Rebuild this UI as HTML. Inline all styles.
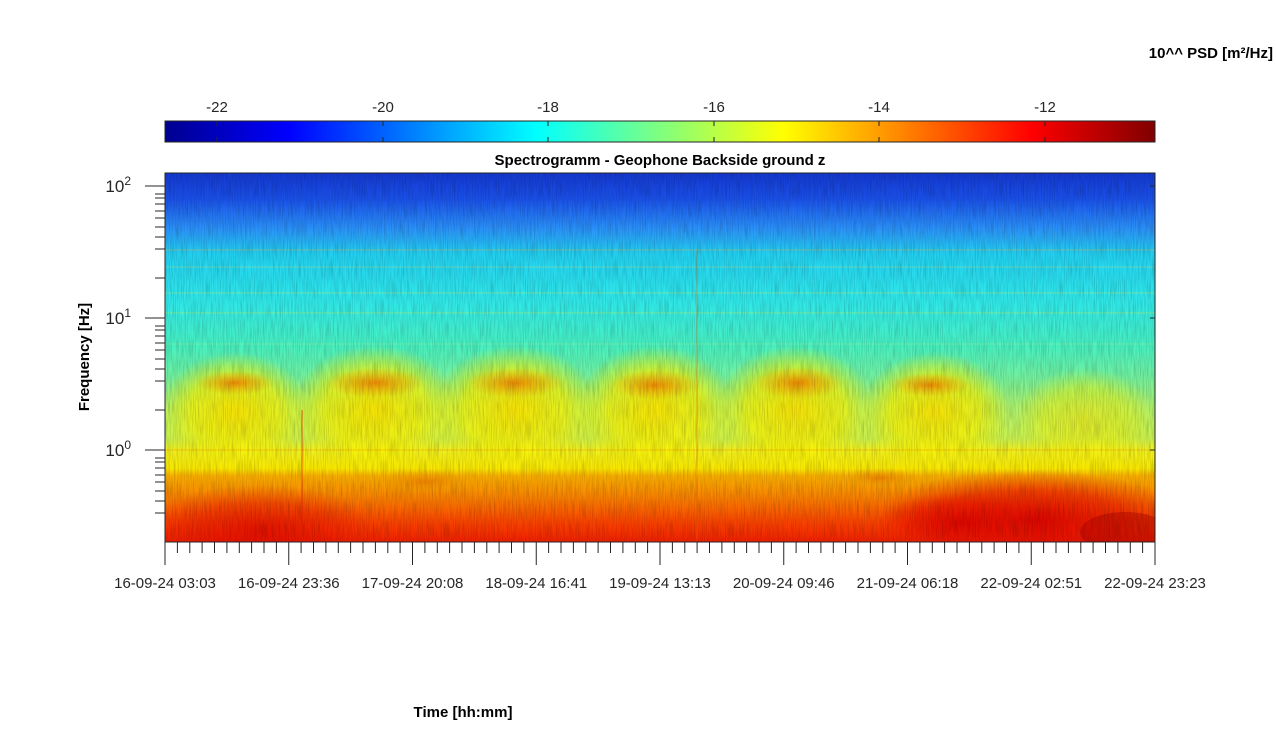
<!DOCTYPE html>
<html><head><meta charset="utf-8"><style>
html,body{margin:0;padding:0;background:#fff;}
svg{display:block;font-family:"Liberation Sans",Arial,sans-serif;}
</style></head><body>
<svg width="1276" height="743" viewBox="0 0 1276 743" xmlns="http://www.w3.org/2000/svg">
<defs>
<linearGradient id="jet" x1="0" x2="1" y1="0" y2="0">
<stop offset="0" stop-color="#00008f"/>
<stop offset="0.125" stop-color="#0000ff"/>
<stop offset="0.375" stop-color="#00ffff"/>
<stop offset="0.625" stop-color="#ffff00"/>
<stop offset="0.875" stop-color="#ff0000"/>
<stop offset="1" stop-color="#800000"/>
</linearGradient>
<linearGradient id="base" x1="0" x2="0" y1="0" y2="1">
<stop offset="0" stop-color="#1438d0"/>
<stop offset="0.07" stop-color="#1a50e8"/>
<stop offset="0.15" stop-color="#2a90f8"/>
<stop offset="0.22" stop-color="#22d0f0"/>
<stop offset="0.35" stop-color="#30e8e8"/>
<stop offset="0.47" stop-color="#48f0c0"/>
<stop offset="0.55" stop-color="#70f0a0"/>
<stop offset="0.63" stop-color="#a8f070"/>
<stop offset="0.72" stop-color="#c8f050"/>
<stop offset="0.75" stop-color="#f0f020"/>
<stop offset="0.80" stop-color="#f8e800"/>
<stop offset="0.82" stop-color="#f8b000"/>
<stop offset="0.88" stop-color="#f88000"/>
<stop offset="0.95" stop-color="#f84000"/>
<stop offset="1" stop-color="#f02000"/>
</linearGradient>
<radialGradient id="blob" cx="0.5" cy="0.5" r="0.5">
<stop offset="0" stop-color="#f8e000" stop-opacity="0.95"/>
<stop offset="0.6" stop-color="#f8f000" stop-opacity="0.7"/>
<stop offset="1" stop-color="#f8f000" stop-opacity="0"/>
</radialGradient>
<radialGradient id="oblob" cx="0.5" cy="0.5" r="0.5">
<stop offset="0" stop-color="#f08000" stop-opacity="0.9"/>
<stop offset="1" stop-color="#f0a000" stop-opacity="0"/>
</radialGradient>
<radialGradient id="rblob" cx="0.5" cy="0.5" r="0.5">
<stop offset="0" stop-color="#d80000" stop-opacity="0.95"/>
<stop offset="0.6" stop-color="#e81000" stop-opacity="0.6"/>
<stop offset="1" stop-color="#f02000" stop-opacity="0"/>
</radialGradient>
<filter id="noise" x="0" y="0" width="1" height="1">
<feTurbulence type="fractalNoise" baseFrequency="0.9 0.05" numOctaves="2" seed="3"/>
<feColorMatrix type="matrix" values="0 0 0 0 0  0 0 0 0 0  0 0 0 0 0  0 0 0 -1.2 0.75"/>
</filter>
<clipPath id="pc"><rect x="165" y="173" width="990" height="369"/></clipPath>
</defs>

<rect x="165" y="121" width="990" height="21" fill="url(#jet)" stroke="#262626" stroke-width="1"/>
<g stroke="#262626" stroke-width="1">
<line x1="217" y1="121" x2="217" y2="126"/><line x1="383" y1="121" x2="383" y2="126"/><line x1="548" y1="121" x2="548" y2="126"/><line x1="714" y1="121" x2="714" y2="126"/><line x1="879" y1="121" x2="879" y2="126"/><line x1="1045" y1="121" x2="1045" y2="126"/>
<line x1="217" y1="142" x2="217" y2="137"/><line x1="383" y1="142" x2="383" y2="137"/><line x1="548" y1="142" x2="548" y2="137"/><line x1="714" y1="142" x2="714" y2="137"/><line x1="879" y1="142" x2="879" y2="137"/><line x1="1045" y1="142" x2="1045" y2="137"/>
</g>
<g font-size="15" fill="#262626" text-anchor="middle">
<text x="217" y="112">-22</text><text x="383" y="112">-20</text><text x="548" y="112">-18</text><text x="714" y="112">-16</text><text x="879" y="112">-14</text><text x="1045" y="112">-12</text>
</g>
<text x="1273" y="58" font-size="15" font-weight="bold" text-anchor="end" fill="#000">10^^ PSD [m²/Hz]</text>
<text x="660" y="165" font-size="15" font-weight="bold" text-anchor="middle" fill="#000">Spectrogramm - Geophone Backside ground z</text>

<g clip-path="url(#pc)">
<rect x="165" y="173" width="990" height="369" fill="url(#base)"/>
<g>
<ellipse cx="235" cy="412" rx="75" ry="60" fill="url(#blob)"/>
<ellipse cx="375" cy="410" rx="85" ry="65" fill="url(#blob)"/>
<ellipse cx="515" cy="410" rx="85" ry="65" fill="url(#blob)"/>
<ellipse cx="655" cy="410" rx="80" ry="65" fill="url(#blob)"/>
<ellipse cx="795" cy="410" rx="80" ry="65" fill="url(#blob)"/>
<ellipse cx="935" cy="412" rx="75" ry="60" fill="url(#blob)"/>
<ellipse cx="1085" cy="418" rx="70" ry="50" fill="url(#blob)" opacity="0.6"/>
<ellipse cx="235" cy="383" rx="40" ry="12" fill="url(#oblob)"/>
<ellipse cx="375" cy="383" rx="50" ry="15" fill="url(#oblob)"/>
<ellipse cx="515" cy="383" rx="50" ry="15" fill="url(#oblob)"/>
<ellipse cx="655" cy="385" rx="45" ry="15" fill="url(#oblob)"/>
<ellipse cx="798" cy="383" rx="45" ry="16" fill="url(#oblob)"/>
<ellipse cx="930" cy="385" rx="40" ry="12" fill="url(#oblob)"/>
<ellipse cx="425" cy="482" rx="50" ry="12" fill="url(#oblob)"/>
<ellipse cx="880" cy="478" rx="40" ry="10" fill="url(#oblob)"/>
</g>
<ellipse cx="260" cy="530" rx="120" ry="45" fill="url(#rblob)" opacity="0.7"/>
<ellipse cx="1030" cy="520" rx="160" ry="50" fill="url(#rblob)"/>
<ellipse cx="1125" cy="532" rx="45" ry="20" fill="#a00000" opacity="0.4"/>
<ellipse cx="960" cy="522" rx="80" ry="30" fill="url(#rblob)" opacity="0.8"/>
<g stroke-width="1" opacity="0.5">
<line x1="165" y1="250" x2="1155" y2="250" stroke="#c0c060"/>
<line x1="165" y1="267" x2="1155" y2="267" stroke="#a0e0a0"/>
<line x1="165" y1="293" x2="1155" y2="293" stroke="#b0f080"/>
<line x1="165" y1="313" x2="1155" y2="313" stroke="#c0f060"/>
<line x1="165" y1="344" x2="1155" y2="344" stroke="#90f0a0"/>
<line x1="165" y1="450" x2="1155" y2="450" stroke="#f0a000"/>
</g>
<line x1="302" y1="410" x2="302" y2="542" stroke="#e82000" opacity="0.7"/>
<line x1="697" y1="250" x2="697" y2="542" stroke="#e86000" opacity="0.5"/>
<rect x="165" y="173" width="990" height="369" filter="url(#noise)" opacity="0.3"/>
</g>
<rect x="165" y="173" width="990" height="369" fill="none" stroke="#262626" stroke-width="1"/>

<g stroke="#262626" stroke-width="1">
<line x1="145" y1="186" x2="165" y2="186"/><line x1="145" y1="318" x2="165" y2="318"/><line x1="145" y1="450" x2="165" y2="450"/>
<line x1="155" y1="198" x2="165" y2="198"/><line x1="155" y1="211" x2="165" y2="211"/><line x1="155" y1="227" x2="165" y2="227"/><line x1="155" y1="249" x2="165" y2="249"/><line x1="155" y1="278" x2="165" y2="278"/>
<line x1="155" y1="194" x2="165" y2="194"/><line x1="155" y1="204" x2="165" y2="204"/><line x1="155" y1="218" x2="165" y2="218"/><line x1="155" y1="237" x2="165" y2="237"/>
<line x1="155" y1="330" x2="165" y2="330"/><line x1="155" y1="343" x2="165" y2="343"/><line x1="155" y1="359" x2="165" y2="359"/><line x1="155" y1="381" x2="165" y2="381"/><line x1="155" y1="410" x2="165" y2="410"/>
<line x1="155" y1="326" x2="165" y2="326"/><line x1="155" y1="336" x2="165" y2="336"/><line x1="155" y1="350" x2="165" y2="350"/><line x1="155" y1="369" x2="165" y2="369"/>
<line x1="155" y1="462" x2="165" y2="462"/><line x1="155" y1="475" x2="165" y2="475"/><line x1="155" y1="491" x2="165" y2="491"/><line x1="155" y1="513" x2="165" y2="513"/>
<line x1="155" y1="458" x2="165" y2="458"/><line x1="155" y1="468" x2="165" y2="468"/><line x1="155" y1="482" x2="165" y2="482"/><line x1="155" y1="501" x2="165" y2="501"/>
<line x1="1150" y1="186" x2="1155" y2="186"/><line x1="1150" y1="318" x2="1155" y2="318"/><line x1="1150" y1="450" x2="1155" y2="450"/>
</g>
<g font-size="17" fill="#262626" text-anchor="end">
<text x="131" y="192">10<tspan font-size="12" dy="-7">2</tspan></text>
<text x="131" y="324">10<tspan font-size="12" dy="-7">1</tspan></text>
<text x="131" y="456">10<tspan font-size="12" dy="-7">0</tspan></text>
</g>
<text transform="translate(89,357) rotate(-90)" font-size="15" font-weight="bold" text-anchor="middle" fill="#000">Frequency [Hz]</text>

<g stroke="#262626" stroke-width="1">
<line x1="165" y1="542" x2="165" y2="565"/><line x1="288.75" y1="542" x2="288.75" y2="565"/><line x1="412.5" y1="542" x2="412.5" y2="565"/><line x1="536.25" y1="542" x2="536.25" y2="565"/><line x1="660" y1="542" x2="660" y2="565"/><line x1="783.75" y1="542" x2="783.75" y2="565"/><line x1="907.5" y1="542" x2="907.5" y2="565"/><line x1="1031.25" y1="542" x2="1031.25" y2="565"/><line x1="1155" y1="542" x2="1155" y2="565"/>
</g>
<g stroke="#262626" stroke-width="1">
<path d="M177.4 542v11M189.8 542v11M202.1 542v11M214.5 542v11M226.9 542v11M239.3 542v11M251.6 542v11M264 542v11M276.4 542v11
M301.1 542v11M313.5 542v11M325.9 542v11M338.3 542v11M350.6 542v11M363 542v11M375.4 542v11M387.8 542v11M400.1 542v11
M424.9 542v11M437.3 542v11M449.6 542v11M462 542v11M474.4 542v11M486.8 542v11M499.1 542v11M511.5 542v11M523.9 542v11
M548.6 542v11M561 542v11M573.4 542v11M585.8 542v11M598.1 542v11M610.5 542v11M622.9 542v11M635.3 542v11M647.6 542v11
M672.4 542v11M684.8 542v11M697.1 542v11M709.5 542v11M721.9 542v11M734.3 542v11M746.6 542v11M759 542v11M771.4 542v11
M796.1 542v11M808.5 542v11M820.9 542v11M833.3 542v11M845.6 542v11M858 542v11M870.4 542v11M882.8 542v11M895.1 542v11
M919.9 542v11M932.3 542v11M944.6 542v11M957 542v11M969.4 542v11M981.8 542v11M994.1 542v11M1006.5 542v11M1018.9 542v11
M1043.6 542v11M1056 542v11M1068.4 542v11M1080.8 542v11M1093.1 542v11M1105.5 542v11M1117.9 542v11M1130.3 542v11M1142.6 542v11"/>
</g>
<g font-size="15" fill="#262626" text-anchor="middle">
<text x="165" y="588">16-09-24 03:03</text>
<text x="288.75" y="588">16-09-24 23:36</text>
<text x="412.5" y="588">17-09-24 20:08</text>
<text x="536.25" y="588">18-09-24 16:41</text>
<text x="660" y="588">19-09-24 13:13</text>
<text x="783.75" y="588">20-09-24 09:46</text>
<text x="907.5" y="588">21-09-24 06:18</text>
<text x="1031.25" y="588">22-09-24 02:51</text>
<text x="1155" y="588">22-09-24 23:23</text>
</g>
<text x="463" y="717" font-size="15" font-weight="bold" text-anchor="middle" fill="#000">Time [hh:mm]</text>
</svg>
</body></html>
